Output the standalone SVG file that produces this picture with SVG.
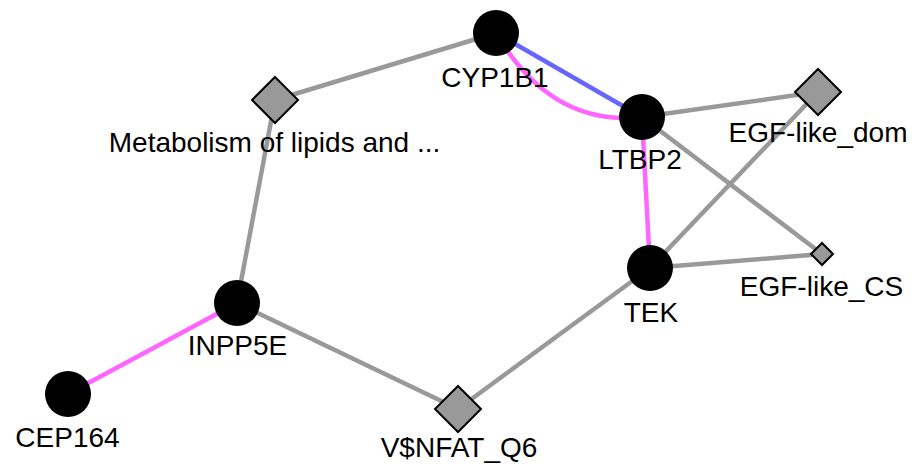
<svg xmlns="http://www.w3.org/2000/svg" width="912" height="467" viewBox="0 0 912 467">
<style>
.e{fill:none;stroke-width:4.5;stroke-linecap:butt}
.g{stroke:#999999}
.m{stroke:#ff66ff}
.b{stroke:#6666ff}
.c{fill:#000000}
.d{fill:#999999;stroke:#000000;stroke-width:2}
text{font-family:"Liberation Sans",Arial,Helvetica,sans-serif;font-size:28px;fill:#000000;text-anchor:middle}
</style>
<rect width="912" height="467" fill="#ffffff"/>
<g id="edges">
<line class="e g" x1="275" y1="100" x2="496" y2="33"/>
<line class="e g" x1="275" y1="100" x2="237" y2="303"/>
<line class="e m" x1="237" y1="303" x2="68" y2="394"/>
<line class="e g" x1="237" y1="303" x2="458" y2="409"/>
<line class="e g" x1="458" y1="409" x2="650" y2="268"/>
<line class="e b" x1="496" y1="33" x2="642" y2="117"/>
<path class="e m" d="M496,33 Q551,127 642,117"/>
<line class="e g" x1="642" y1="117" x2="818" y2="92"/>
<line class="e g" x1="642" y1="117" x2="822" y2="254"/>
<line class="e m" x1="642" y1="117" x2="650" y2="268"/>
<line class="e g" x1="650" y1="268" x2="818" y2="92"/>
<line class="e g" x1="650" y1="268" x2="822" y2="254"/>
</g>
<g id="node-CYP1B1"><circle class="c" cx="496" cy="33" r="23"/><text x="495" y="86.5">CYP1B1</text></g>
<g id="node-LTBP2"><circle class="c" cx="642" cy="117" r="23"/><text x="640" y="168.5">LTBP2</text></g>
<g id="node-TEK"><circle class="c" cx="650" cy="268" r="23"/><text x="651" y="321.5">TEK</text></g>
<g id="node-INPP5E"><circle class="c" cx="237" cy="303" r="23"/><text x="237.5" y="355">INPP5E</text></g>
<g id="node-CEP164"><circle class="c" cx="68" cy="394" r="23"/><text x="67.5" y="446.5">CEP164</text></g>
<g id="node-Metabolism"><polygon class="d" points="275,77 298,100 275,123 252,100"/><text x="274.5" y="151.5">Metabolism of lipids and ...</text></g>
<g id="node-VNFAT_Q6"><polygon class="d" points="458,386 481,409 458,432 435,409"/><text x="459" y="456.5">V$NFAT_Q6</text></g>
<g id="node-EGF-like_dom"><polygon class="d" points="818,69 841,92 818,115 795,92"/><text x="818" y="142">EGF-like_dom</text></g>
<g id="node-EGF-like_CS"><polygon class="d" points="822,243 833,254 822,265 811,254"/><text x="821.5" y="296">EGF-like_CS</text></g>
</svg>
